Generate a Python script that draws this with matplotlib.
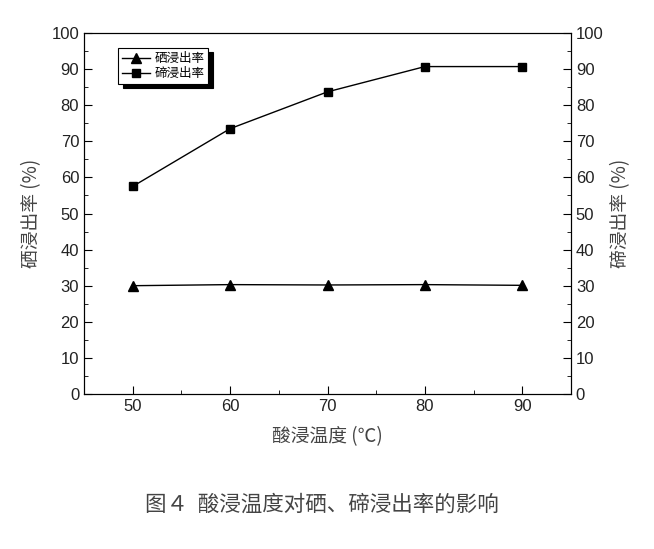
import matplotlib
matplotlib.use("Agg")
import matplotlib.pyplot as plt
from matplotlib.ticker import MultipleLocator

plt.rcParams['font.family'] = ['Liberation Sans', 'Noto Sans CJK SC', 'DejaVu Sans']

temps = [50, 60, 70, 80, 90]
se_rate = [30.0, 30.3, 30.2, 30.3, 30.1]
te_rate = [57.5, 73.5, 83.7, 90.7, 90.7]
se_label = '硒浸出率'
te_label = '碲浸出率'
x_label = '酸浸温度 (℃)'
y_left = '硒浸出率 (%)'
y_right = '碲浸出率 (%)'
caption = '图４  酸浸温度对硒、碲浸出率的影响'

fig = plt.figure(figsize=(6.54, 5.49), dpi=100)
ax = fig.add_axes([84/654, 1-394/549, (571-84)/654, (394-33)/549])
ax.plot(temps, se_rate, color='black', lw=1, marker='^', ms=6.5, label=se_label)
ax.plot(temps, te_rate, color='black', lw=1, marker='s', ms=5.5, label=te_label)
ax.set_xlim(45, 95)
ax.set_ylim(0, 100)
ax.xaxis.set_major_locator(MultipleLocator(10))
ax.xaxis.set_minor_locator(MultipleLocator(5))
ax.yaxis.set_major_locator(MultipleLocator(10))
ax.yaxis.set_minor_locator(MultipleLocator(5))
ax.tick_params(which='both', direction='in', labelsize=12, colors='black', labelcolor='#222222')
ax.tick_params(which='major', length=6)
ax.tick_params(which='minor', length=3)

ax2 = ax.twinx()
ax2.set_ylim(0, 100)
ax2.yaxis.set_major_locator(MultipleLocator(10))
ax2.yaxis.set_minor_locator(MultipleLocator(5))
ax2.tick_params(which='both', direction='in', labelsize=12, labelcolor='#222222')
ax2.tick_params(which='major', length=6)
ax2.tick_params(which='minor', length=3)

ax.set_xlabel(x_label, fontsize=13.5, color='#444444', labelpad=9,
              family=['Noto Sans CJK SC', 'DejaVu Sans'])
ax.set_ylabel(y_left, fontsize=13.5, color='#444444', labelpad=7,
              family=['Noto Sans CJK SC', 'DejaVu Sans'])
ax2.set_ylabel(y_right, fontsize=13.5, color='#444444', labelpad=5,
               family=['Noto Sans CJK SC', 'DejaVu Sans'])

leg = ax.legend(loc='upper left', bbox_to_anchor=(0.058, 0.975), frameon=True,
                shadow={'color': 'black', 'alpha': 1, 'ox': 3, 'oy': -3}, fancybox=False,
                prop={'family': 'Noto Sans CJK SC', 'size': 9},
                handlelength=2.2, borderpad=0.3, labelspacing=0.15, handletextpad=0.4)
leg.get_frame().set_edgecolor('black')
leg.get_frame().set_linewidth(0.8)

fig.text(322/654, 1-505/549, caption, ha='center', va='center', fontsize=15.5,
         color='#444444', family=['Noto Sans CJK SC', 'DejaVu Sans'])

fig.savefig('out.png', dpi=100, facecolor='white')
